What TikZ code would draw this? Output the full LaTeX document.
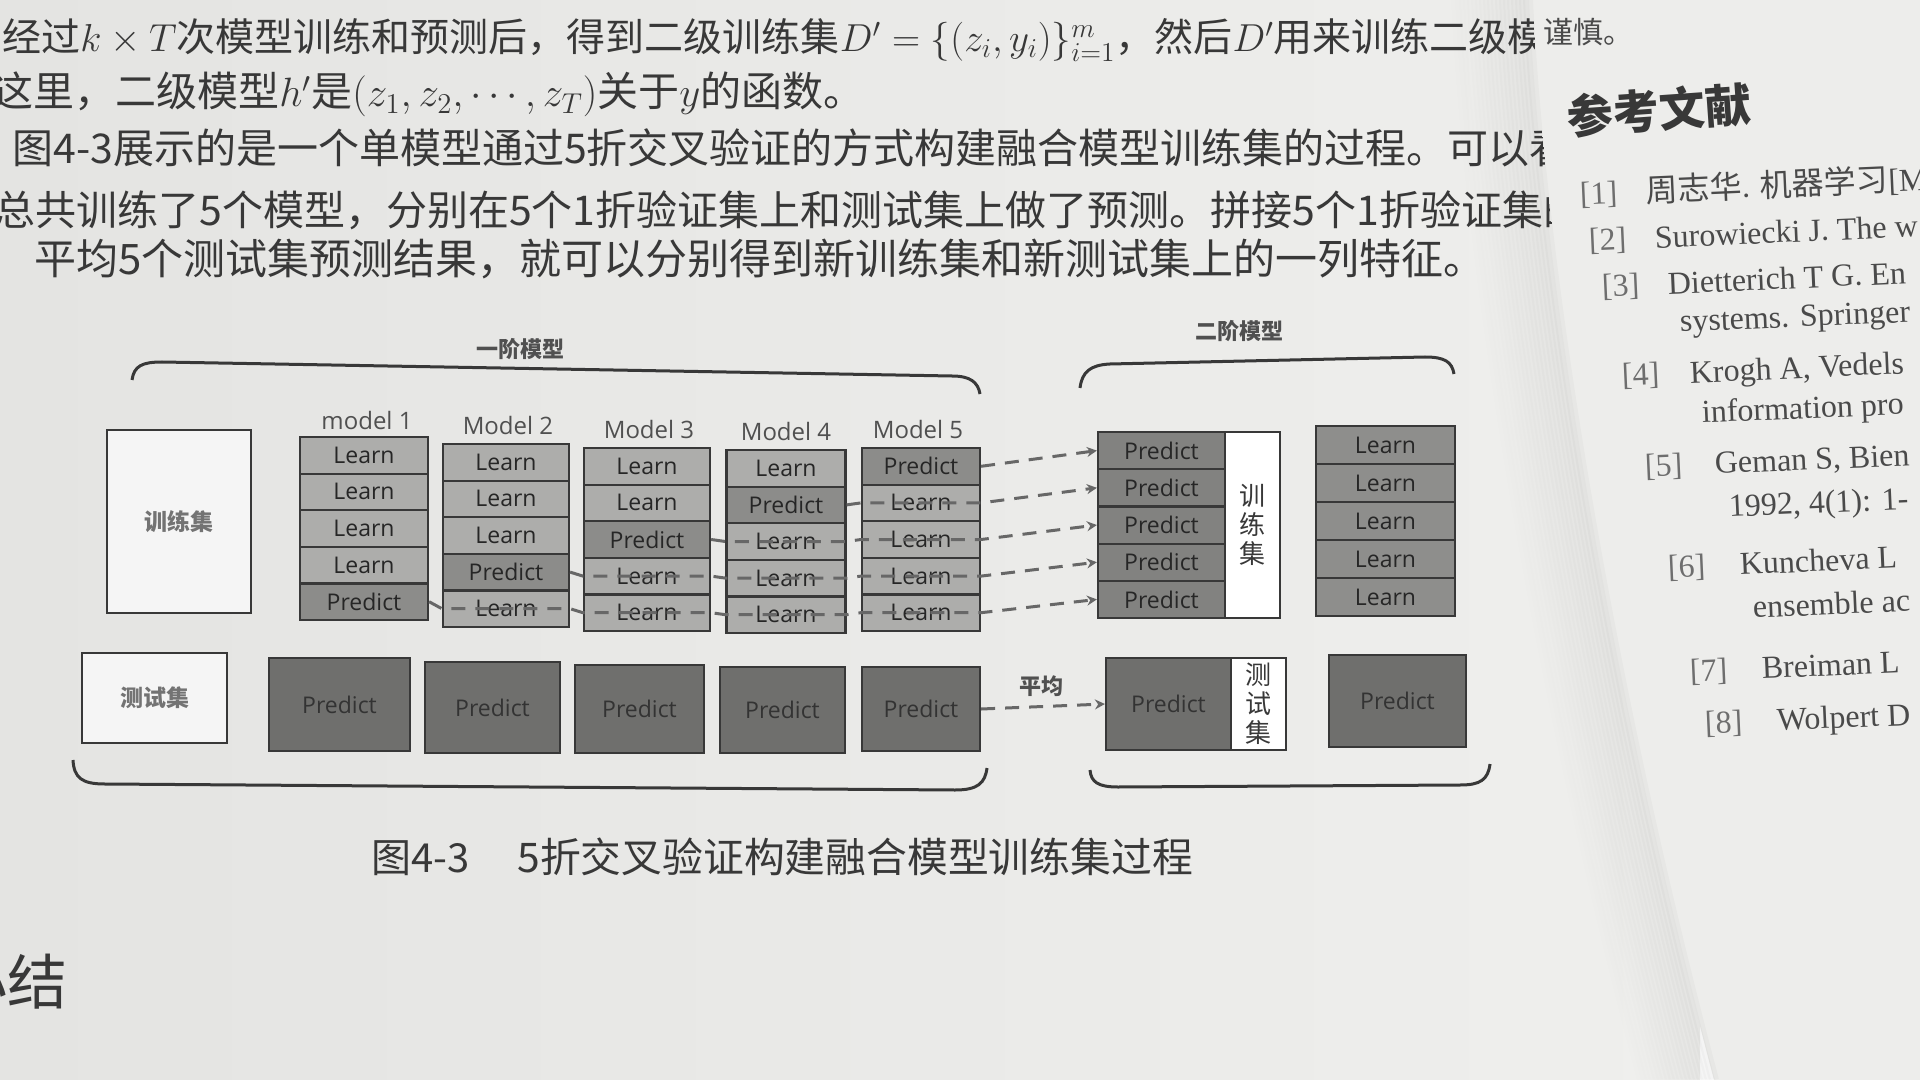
\RequirePackage{fix-cm}
\documentclass[tikz,border=0pt]{standalone}
\usepackage{fontspec}
\setmainfont{Liberation Serif}
\newfontfamily\cjk{Noto Sans CJK SC}
\newfontfamily\osans{Open Sans}
\usetikzlibrary{arrows.meta}
\definecolor{paperA}{HTML}{E4E4E2}
\definecolor{paperB}{HTML}{EFEFED}
\definecolor{paperR}{HTML}{EDEDEB}
\definecolor{learnfill}{HTML}{ADADAB}
\definecolor{predfill}{HTML}{8C8C8A}
\definecolor{rpfill}{HTML}{828280}
\definecolor{rlfill}{HTML}{8E8E8C}
\definecolor{darkfill}{HTML}{6F6F6D}
\definecolor{inkc}{HTML}{383838}
\definecolor{edgec}{HTML}{383838}
\definecolor{dashc}{HTML}{676767}
\definecolor{labc}{HTML}{505050}
\definecolor{refc}{HTML}{4A4A4A}
\definecolor{numc}{HTML}{6E6E6E}
\begin{document}
\begin{tikzpicture}[x=0.5pt,y=-0.5pt,
  bodytxt/.style={anchor=base west, inner sep=0pt, text=inkc, font=\cjk\fontsize{20.5}{25}\selectfont},
  reftxt/.style={anchor=base west, inner sep=0pt, text=refc, rotate=2.5, font=\fontsize{16}{18}\selectfont},
  cellbase/.style={draw=edgec, line width=1.1pt, inner sep=0pt, text=black!85, font=\osans\fontsize{11.5}{12}\selectfont},
  cellL/.style={cellbase, fill=learnfill, minimum height=18.3pt},
  cellP/.style={cellbase, fill=predfill, minimum height=18.3pt},
  rpcell/.style={cellbase, fill=rpfill, minimum width=63.5pt, minimum height=18.6pt},
  rlcell/.style={cellbase, fill=rlfill, minimum width=69.5pt, minimum height=19pt},
  darkbox/.style={cellbase, fill=darkfill, text=black!80},
  whitebox/.style={draw=edgec, line width=1.1pt, fill=white!96!black, inner sep=0pt, text=black!55, font=\cjk\bfseries\fontsize{11.5}{12}\selectfont},
  strip/.style={draw=edgec, line width=1.1pt, fill=white, inner sep=0pt, align=center, text=inkc, font=\cjk\fontsize{13}{14.5}\selectfont},
  modlab/.style={inner sep=0pt, text=labc, font=\osans\fontsize{12}{13}\selectfont},
  cjklab/.style={inner sep=0pt, text=labc, font=\cjk\bfseries\fontsize{11}{12}\selectfont},
  bracec/.style={draw=edgec, line width=1.5pt},
  dasharr/.style={draw=dashc, line width=1.5pt, dash pattern=on 7pt off 5pt, -{Stealth[length=5pt,width=5pt]}}
]
\useasboundingbox (0,0) rectangle (1920,1080);
\clip (0,0) rectangle (1920,1080);
% ---------- paper ----------
\shade[left color=paperA, right color=paperB] (0,0) rectangle (1700,1080);
\fill[paperR] (1528,0) .. controls (1540,250) and (1600,650) .. (1714,1080) -- (1920,1080) -- (1920,0) -- cycle;
\foreach \i in {0,...,19}{
  \pgfmathsetmacro{\op}{0.022*(1-\i/20)}
  \draw[line width=5pt, draw=black, opacity=\op] ([xshift=-\i*2pt]1528,0) .. controls ([xshift=-\i*2pt]1540,250) and ([xshift=-\i*2pt]1600,650) .. ([xshift=-\i*2pt]1714,1080);
}
% ---------- left page text ----------
\begin{scope}
\clip (0,0) -- (1532,0) .. controls (1544,250) and (1604,650) .. (1718,1080) -- (0,1080) -- cycle;
\node[bodytxt, font=\cjk\fontsize{19.5}{24}\selectfont] (t1) at (2,52) {经过$k\times T$次模型训练和预测后，得到二级训练集$D'=\{(z_i,y_i)\}_{i=1}^{m}$，然后$D'$用来训练二级模};
\node[bodytxt] (t2) at (-8,107) {这里，二级模型$h'$是$(z_1,z_2,\cdots,z_T)$关于$y$的函数。};
\node[bodytxt] (t3) at (12,164) {图4-3展示的是一个单模型通过5折交叉验证的方式构建融合模型训练集的过程。可以看};
\node[bodytxt] (t4) at (-6,226) {总共训练了5个模型，分别在5个1折验证集上和测试集上做了预测。拼接5个1折验证集的};
\node[bodytxt, font=\cjk\fontsize{21}{25}\selectfont] (t5) at (34,275) {平均5个测试集预测结果，就可以分别得到新训练集和新测试集上的一列特征。};
\node[anchor=base west, inner sep=0pt, text=inkc, font=\cjk\fontsize{20}{24}\selectfont] (cap1) at (371,872) {图4-3};
\node[anchor=base west, inner sep=0pt, text=inkc, font=\cjk\fontsize{20.4}{24}\selectfont] (cap2) at (517,872) {5折交叉验证构建融合模型训练集过程};
\node[anchor=east, inner sep=0pt, text=inkc, font=\cjk\fontsize{30}{34}\selectfont] (sec) at (68,982) {小结};
\end{scope}
% ---------- right page text ----------
\node[anchor=base west, inner sep=0pt, text=refc, font=\cjk\fontsize{15}{18}\selectfont] (jin) at (1543,44) {谨慎。};
\node[inner sep=0pt, text=inkc, rotate=4, font=\cjk\bfseries\fontsize{23}{26}\selectfont] (refhead) at (1659,110) {参考文献};
\node[reftxt] (r1) at (1580,205) {\makebox[33pt][l]{\textcolor{numc}{[1]}}{\cjk 周志华}. {\cjk 机器学习}[M};
\node[reftxt] (r2) at (1589,251) {\makebox[33pt][l]{\textcolor{numc}{[2]}}Surowiecki J. The w};
\node[reftxt] (r3) at (1602,297) {\makebox[33pt][l]{\textcolor{numc}{[3]}}Dietterich T G. En};
\node[reftxt] (r3b) at (1680,332) {systems. Springer};
\node[reftxt] (r4) at (1622,386) {\makebox[34pt][l]{\textcolor{numc}{[4]}}Krogh A, Vedels};
\node[reftxt] (r4b) at (1702,423) {information pro};
\node[reftxt] (r5) at (1645,477) {\makebox[35pt][l]{\textcolor{numc}{[5]}}Geman S, Bien};
\node[reftxt] (r5b) at (1729,517) {1992, 4(1): 1-};
\node[reftxt] (r6) at (1668,578) {\makebox[36pt][l]{\textcolor{numc}{[6]}}Kuncheva L};
\node[reftxt] (r6b) at (1753,618) {ensemble ac};
\node[reftxt] (r7) at (1690,682) {\makebox[36pt][l]{\textcolor{numc}{[7]}}Breiman L};
\node[reftxt] (r8) at (1705,734) {\makebox[36pt][l]{\textcolor{numc}{[8]}}Wolpert D};
% ---------- diagram: braces and headings ----------
\node[cjklab] (h1) at (520,349) {一阶模型};
\node[cjklab] (h2) at (1239,331) {二阶模型};
\draw[bracec] (132,380) .. controls (134,366) and (142,362) .. (162,362) -- (952,376) .. controls (970,376) and (978,382) .. (980,394);
\draw[bracec] (1080,388) .. controls (1082,372) and (1090,365) .. (1110,364) -- (1425,357) .. controls (1445,357) and (1452,362) .. (1454,374);
\draw[bracec] (73,760) .. controls (74,778) and (82,784) .. (105,784) -- (955,790) .. controls (978,790) and (985,783) .. (987,768);
\draw[bracec] (1090,770) .. controls (1091,782) and (1098,787) .. (1118,787) -- (1460,785) .. controls (1480,785) and (1488,780) .. (1490,764);
% ---------- training set ----------
\node[whitebox, minimum width=72pt, minimum height=91.5pt] (train) at (179,521.5) {训练集};
% ---------- model columns ----------
\node[modlab] (lab1) at (367,420) {model 1};
\node[modlab] (lab2) at (508,425) {Model 2};
\node[modlab] (lab3) at (649,429) {Model 3};
\node[modlab] (lab4) at (786,431) {Model 4};
\node[modlab] (lab5) at (918,429) {Model 5};
\foreach \k/\cx/\w/\top in {1/364/128/437,2/506/126/444,3/647/126/448,4/786/119/450,5/921/118/448}{
  \pgfmathtruncatemacro{\pr}{6-\k}
  \foreach \r in {1,...,5}{
    \pgfmathsetmacro{\cy}{\top+(\r-0.5)*36.6}
    \ifnum\r=\pr
      \node[cellP, minimum width=\w*0.5pt] (m\k-\r) at (\cx,\cy) {Predict};
    \else
      \node[cellL, minimum width=\w*0.5pt] (m\k-\r) at (\cx,\cy) {Learn};
    \fi
  }
}
% ---------- second level training ----------
\foreach \r in {1,...,5}{
  \pgfmathsetmacro{\cy}{432+(\r-0.5)*37.2}
  \node[rpcell] (rp\r) at (1161.5,\cy) {Predict};
}
\node[strip, minimum width=27.5pt, minimum height=93pt] (trstrip) at (1252.5,525) {训\\练\\集};
\foreach \r in {1,...,5}{
  \pgfmathsetmacro{\cy}{426+(\r-0.5)*38}
  \node[rlcell] (rl\r) at (1385.5,\cy) {Learn};
}
% prediction of each fold carried through the later columns to the second-level set
\draw[dasharr] (m5-1.east) -- (rp1.west);
\draw[dasharr] (m4-2.east) -- (m5-2.west) -- (m5-2.east) -- (rp2.west);
\draw[dasharr] (m3-3.east) -- (m4-3.west) -- (m4-3.east) -- (m5-3.west) -- (m5-3.east) -- (rp3.west);
\draw[dasharr] (m2-4.east) -- (m3-4.west) -- (m3-4.east) -- (m4-4.west) -- (m4-4.east) -- (m5-4.west) -- (m5-4.east) -- (rp4.west);
\draw[dasharr] (m1-5.east) -- (m2-5.west) -- (m2-5.east) -- (m3-5.west) -- (m3-5.east) -- (m4-5.west) -- (m4-5.east) -- (m5-5.west) -- (m5-5.east) -- (rp5.west);
% ---------- test row ----------
\node[whitebox, minimum width=72.5pt, minimum height=45pt] (test) at (154.5,698) {测试集};
\node[darkbox, minimum width=70.5pt, minimum height=46.5pt] (b1) at (339.5,704.5) {Predict};
\node[darkbox, minimum width=67.5pt, minimum height=45.5pt] (b2) at (492.5,707.5) {Predict};
\node[darkbox, minimum width=64.5pt, minimum height=44pt] (b3) at (639.5,709) {Predict};
\node[darkbox, minimum width=62.5pt, minimum height=43pt] (b4) at (782.5,710) {Predict};
\node[darkbox, minimum width=59pt, minimum height=42pt] (b5) at (921,709) {Predict};
\node[darkbox, minimum width=62.5pt, minimum height=46pt] (rdark) at (1168.5,704) {Predict};
\node[strip, minimum width=27.5pt, minimum height=46pt] (tstrip) at (1258.5,704) {测\\试\\集};
\node[darkbox, minimum width=68.5pt, minimum height=46pt] (final) at (1397.5,701) {Predict};
\node[cjklab] (avg) at (1041,686) {平均};
\draw[dasharr] (b5.east) -- (rdark.west);
\end{tikzpicture}
\end{document}
